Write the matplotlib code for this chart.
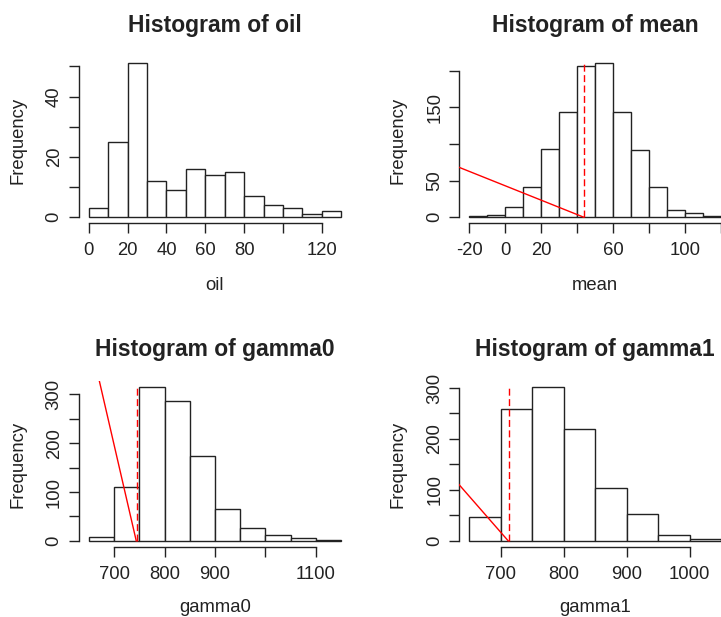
import matplotlib
matplotlib.use("Agg")
import matplotlib.pyplot as plt

plt.rcParams['font.family'] = ['Liberation Sans', 'DejaVu Sans']

# ---------------- data ----------------
oil_breaks = list(range(0, 131, 10))
oil_counts = [3, 25, 51, 12, 9, 16, 14, 15, 7, 4, 3, 1, 2]

mean_breaks = list(range(-20, 121, 10))
mean_counts = [1, 3, 14, 41, 93, 144, 206, 210, 144, 92, 41, 10, 6, 2]

gamma0_breaks = list(range(650, 1151, 50))
gamma0_counts = [7, 110, 314, 287, 173, 66, 27, 13, 5, 1]

gamma1_breaks = list(range(650, 1051, 50))
gamma1_counts = [46, 259, 301, 220, 104, 53, 11, 3]

# reference lines (red)
mean_vline = 43.5
mean_vline_top = 211
mean_line_x = [-30.0, 43.5]
mean_line_y = [72.3, 0.0]

gamma0_vline = 745
gamma0_vline_top = 315
gamma0_line_x = [660.0, 744.0]
gamma0_line_y = [376.0, 0.0]

gamma1_vline = 712.7
gamma1_vline_top = 303
gamma1_line_x = [625.0, 711.7]
gamma1_line_y = [122.5, 0.0]

# tick labels
oil_xticks = [0, 20, 40, 60, 80, 100, 120]
oil_xlabels = ['0', '20', '40', '60', '80', '', '120']
oil_yticks = [0, 10, 20, 30, 40, 50]
oil_ylabels = ['0', '', '20', '', '40', '']

mean_xticks = [-20, 0, 20, 40, 60, 80, 100, 120]
mean_xlabels = ['-20', '0', '20', '', '60', '', '100', '']
mean_yticks = [0, 50, 100, 150, 200]
mean_ylabels = ['0', '50', '', '150', '']

gamma0_xticks = [700, 800, 900, 1000, 1100]
gamma0_xlabels = ['700', '800', '900', '', '1100']
gamma0_yticks = [0, 50, 100, 150, 200, 250, 300]
gamma0_ylabels = ['0', '', '100', '', '200', '', '300']

gamma1_xticks = [700, 800, 900, 1000]
gamma1_xlabels = ['700', '800', '900', '1000']
gamma1_yticks = [0, 50, 100, 150, 200, 250, 300]
gamma1_ylabels = ['0', '', '100', '', '200', '', '300']

# ---------------- layout ----------------
W, H = 721, 617
fig = plt.figure(figsize=(W / 100, H / 100), dpi=100)
fig.patch.set_facecolor('white')

INK = '#222222'
TICK_FS = 13.3
TITLE_FS = 16.5

cols = [(78.7, 351.3), (459.3, 731.3)]
rows = [(57.3, 223.3), (381.3, 547.0)]
xlab_base = [290.0, 612.0]


def panel(col, row, breaks, counts, name, xticks, xlabels, yticks, ylabels):
    L, R = cols[col]
    T, B = rows[row]
    ax = fig.add_axes([L / W, 1 - B / H, (R - L) / W, (B - T) / H])
    rng = breaks[-1] - breaks[0]
    ax.set_xlim(breaks[0] - 0.04 * rng, breaks[-1] + 0.04 * rng)
    M = max(counts)
    ax.set_ylim(-0.04 * M, 1.04 * M)
    widths = [breaks[i + 1] - breaks[i] for i in range(len(counts))]
    ax.bar(breaks[:-1], counts, width=widths, align='edge',
           facecolor='white', edgecolor=INK, linewidth=1.0, zorder=2)
    ax.patch.set_visible(False)
    for s in ('top', 'right'):
        ax.spines[s].set_visible(False)
    for s in ('left', 'bottom'):
        ax.spines[s].set_color(INK)
        ax.spines[s].set_linewidth(1.0)
    ax.spines['left'].set_bounds(yticks[0], yticks[-1])
    ax.spines['bottom'].set_bounds(xticks[0], xticks[-1])
    ax.set_xticks(xticks, xlabels)
    ax.set_yticks(yticks, ylabels)
    ax.tick_params(axis='both', direction='out', length=7, width=1.0,
                   color=INK, labelcolor=INK, labelsize=TICK_FS)
    ax.tick_params(axis='x', pad=6.5)
    ax.tick_params(axis='y', pad=4.5, labelrotation=90)
    for lbl in ax.get_yticklabels():
        lbl.set_va('center')
        lbl.set_ha('right')
    ax.set_title('Histogram of ' + name, fontsize=TITLE_FS, fontweight='bold',
                 color=INK, pad=18)
    cx = (L + R) / 2
    cy = (T + B) / 2
    fig.text(cx / W, 1 - xlab_base[row] / H, name, ha='center', va='baseline',
             fontsize=TICK_FS, color=INK)
    fig.text((L - 61) / W, 1 - cy / H, 'Frequency', ha='center', va='center',
             rotation=90, fontsize=TICK_FS, color=INK)
    return ax


ax1 = panel(0, 0, oil_breaks, oil_counts, 'oil',
            oil_xticks, oil_xlabels, oil_yticks, oil_ylabels)

ax2 = panel(1, 0, mean_breaks, mean_counts, 'mean',
            mean_xticks, mean_xlabels, mean_yticks, mean_ylabels)
ax2.plot(mean_line_x, mean_line_y, color='red', lw=1.0, zorder=3)
ax2.plot([mean_vline, mean_vline], [0, mean_vline_top], color='red', lw=1.0,
         ls=(0, (5, 2.5)), zorder=3)

ax3 = panel(0, 1, gamma0_breaks, gamma0_counts, 'gamma0',
            gamma0_xticks, gamma0_xlabels, gamma0_yticks, gamma0_ylabels)
ax3.plot(gamma0_line_x, gamma0_line_y, color='red', lw=1.0, zorder=3)
ax3.plot([gamma0_vline, gamma0_vline], [0, gamma0_vline_top], color='red', lw=1.0,
         ls=(0, (5, 2.5)), zorder=3)

ax4 = panel(1, 1, gamma1_breaks, gamma1_counts, 'gamma1',
            gamma1_xticks, gamma1_xlabels, gamma1_yticks, gamma1_ylabels)
ax4.plot(gamma1_line_x, gamma1_line_y, color='red', lw=1.0, zorder=3)
ax4.plot([gamma1_vline, gamma1_vline], [0, gamma1_vline_top], color='red', lw=1.0,
         ls=(0, (5, 2.5)), zorder=3)

fig.savefig('out.png', dpi=100, facecolor='white')
